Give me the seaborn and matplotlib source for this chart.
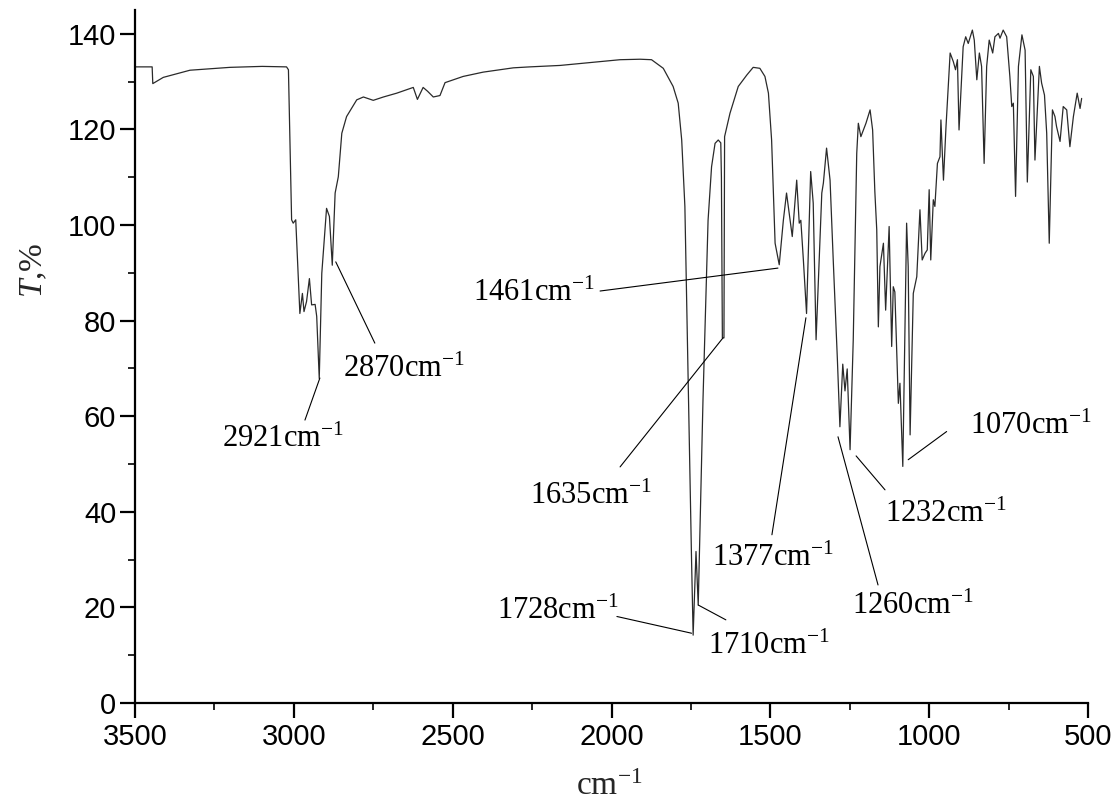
import numpy as np
import pandas as pd
import matplotlib
matplotlib.use("Agg")
import matplotlib.pyplot as plt
import seaborn as sns
from matplotlib.ticker import MultipleLocator

# ---------------- data ----------------
wavenumber = [
    3500, 3446, 3444, 3411, 3327, 3201, 3100, 3023, 3017, 3007, 3002, 2994,
    2981, 2973, 2968, 2960, 2951, 2944, 2933, 2928, 2920, 2912, 2897, 2888,
    2879, 2870, 2860, 2849, 2834, 2802, 2781, 2750, 2718, 2676, 2624, 2611,
    2593, 2579, 2561, 2540, 2524, 2467, 2404, 2309, 2257, 2162, 2068, 1973,
    1910, 1874, 1837, 1806, 1790, 1779, 1769, 1753, 1748, 1743, 1734, 1727,
    1718, 1712, 1696, 1685, 1674, 1664, 1656, 1654, 1651, 1646, 1644, 1627,
    1601, 1574, 1554, 1533, 1517, 1506, 1496, 1491, 1485, 1472, 1459, 1449,
    1431, 1417, 1409, 1404, 1396, 1386, 1373, 1365, 1356, 1338, 1333, 1323,
    1312, 1302, 1289, 1281, 1272, 1265, 1258, 1249, 1239, 1228, 1223, 1215,
    1199, 1186, 1178, 1171, 1165, 1160, 1155, 1144, 1137, 1126, 1118, 1113,
    1108, 1097, 1092, 1083, 1071, 1066, 1060, 1050, 1039, 1029, 1022, 1013,
    1006, 1000, 995, 987, 982, 974, 966, 963, 955, 947, 934, 924,
    917, 911, 906, 893, 885, 877, 864, 858, 850, 842, 835, 827,
    819, 811, 800, 793, 782, 777, 767, 756, 746, 740, 735, 728,
    719, 708, 698, 691, 680, 672, 667, 653, 646, 637, 630, 622,
    612, 604, 599, 588, 578, 567, 557, 546, 534, 525, 520,
]
transmittance = [
    133.1, 133.1, 129.6, 130.9, 132.4, 133.0, 133.2, 133.1, 132.5, 101.1, 100.4, 101.1,
    81.5, 85.7, 81.9, 84.0, 88.8, 83.3, 83.4, 80.9, 67.9, 89.9, 103.5, 101.8,
    91.6, 106.7, 110.1, 119.2, 122.7, 126.2, 126.8, 126.1, 126.8, 127.6, 128.8, 126.3,
    128.8, 128.0, 126.8, 127.1, 129.8, 131.1, 132.0, 132.9, 133.1, 133.4, 134.0, 134.6,
    134.7, 134.6, 132.8, 129.0, 125.5, 117.8, 103.9, 46.7, 29.9, 14.2, 31.7, 20.5,
    46.7, 63.4, 101.0, 112.2, 117.1, 117.8, 117.2, 110.0, 76.4, 76.4, 118.5, 123.4,
    129.0, 131.4, 133.0, 132.8, 131.1, 127.6, 117.8, 108.0, 96.2, 91.7, 101.0, 106.7,
    97.6, 109.4, 100.4, 101.0, 92.7, 81.5, 111.2, 104.6, 76.0, 106.7, 108.8, 116.1,
    109.4, 92.7, 72.0, 57.8, 70.9, 65.3, 69.9, 53.0, 76.0, 115.0, 121.3, 118.5,
    121.3, 124.1, 119.9, 107.0, 99.0, 78.7, 91.3, 96.2, 82.2, 99.7, 74.6, 87.1,
    86.0, 62.7, 66.9, 49.5, 100.4, 91.3, 56.1, 85.7, 89.2, 103.2, 92.7, 94.1,
    94.8, 107.4, 92.7, 105.3, 103.9, 112.9, 114.3, 122.0, 109.4, 120.6, 136.0, 134.2,
    132.5, 134.6, 119.9, 137.3, 139.4, 138.0, 140.8, 138.7, 130.4, 136.0, 133.2, 112.9,
    133.2, 138.7, 136.0, 139.4, 140.1, 139.1, 140.8, 139.4, 131.1, 124.8, 125.5, 106.0,
    133.2, 139.8, 136.6, 109.0, 132.5, 131.1, 113.6, 133.2, 129.7, 127.2, 119.2, 96.2,
    124.1, 122.7, 120.6, 117.5, 124.8, 124.1, 116.4, 122.7, 127.6, 124.4, 126.5,
]

x_ticks = [3500, 3000, 2500, 2000, 1500, 1000, 500]
y_ticks = [0, 20, 40, 60, 80, 100, 120, 140]

# peak annotations: label, text anchor (left, baseline), leader start, leader end
peak_labels = ["2921", "2870", "1461", "1635", "1728", "1710", "1377", "1260", "1232", "1070"]
label_xy = [(3226, 53.6), (2845, 68.2), (2436, 84.1), (2257, 41.6), (2360, 17.6),
            (1696, 10.3), (1684, 28.7), (1243, 18.6), (1139, 37.9), (872, 56.3)]
leader_from = [(2965, 59.2), (2745, 75.3), (2036, 86.2), (1973, 49.4), (1983, 18.1),
               (1640, 17.4), (1495, 35.2), (1161, 24.7), (1139, 44.6), (945, 56.8)]
leader_to = [(2918, 68.0), (2868, 92.3), (1476, 91.0), (1649, 76.4), (1748, 14.6),
             (1727, 20.5), (1388, 80.6), (1287, 55.7), (1230, 51.7), (1066, 50.9)]

# ---------------- style ----------------
sns.set_style("ticks")
plt.rcParams["font.family"] = ["Liberation Sans", "DejaVu Sans"]
plt.rcParams["mathtext.fontset"] = "custom"
plt.rcParams["mathtext.rm"] = "Liberation Serif"
plt.rcParams["mathtext.it"] = "Liberation Serif:italic"
plt.rcParams["mathtext.bf"] = "Liberation Serif:bold"

fig = plt.figure(figsize=(11.13, 8.05), dpi=100)
ax = fig.add_axes([135 / 1113, (805 - 703) / 805, 953 / 1113, 693 / 805])

df = pd.DataFrame({"wn": wavenumber, "T": transmittance})
sns.lineplot(data=df, x="wn", y="T", ax=ax, color="#2a2a2a", linewidth=0.9,
             sort=False, estimator=None)

ax.set_xlim(3500, 500)
ax.set_ylim(0, 145)
ax.set_xticks(x_ticks)
ax.set_yticks(y_ticks)
ax.xaxis.set_minor_locator(MultipleLocator(250))
ax.yaxis.set_minor_locator(MultipleLocator(10))

for s in ["top", "right"]:
    ax.spines[s].set_visible(False)
for s in ["left", "bottom"]:
    ax.spines[s].set_linewidth(1.6)
    ax.spines[s].set_color("black")

ax.tick_params(axis="both", which="major", direction="out", length=10.5, width=1.6,
               labelsize=21, colors="black")
ax.tick_params(axis="both", which="minor", direction="out", length=5, width=1.4)
ax.tick_params(axis="x", which="major", pad=4)
ax.tick_params(axis="y", which="major", pad=3)

ax.set_xlabel("cm$^{-1}$", fontsize=24, family="Liberation Serif")
ax.xaxis.set_label_coords(0.498, -0.098)
ax.set_ylabel("$T$,%", fontsize=24, family="Liberation Serif")
ax.yaxis.set_label_coords(-0.09, 0.625)

for lab, txy, p0, p1 in zip(peak_labels, label_xy, leader_from, leader_to):
    ax.plot([p0[0], p1[0]], [p0[1], p1[1]], color="black", linewidth=0.8)
    ax.text(txy[0], txy[1], lab + "cm$^{-1}$", fontsize=22, family="Liberation Serif",
            ha="left", va="baseline", color="black")

fig.savefig("out.png", dpi=100)
